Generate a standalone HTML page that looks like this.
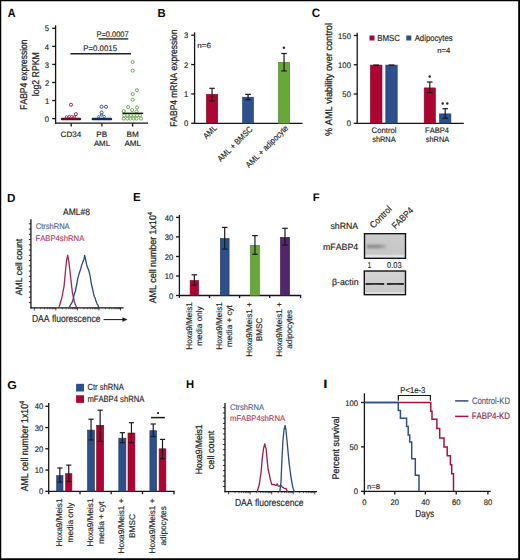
<!DOCTYPE html>
<html><head><meta charset="utf-8"><style>
html,body{margin:0;padding:0;background:#fff;width:520px;height:560px;overflow:hidden;}
svg{display:block;font-family:"Liberation Sans",sans-serif;font-kerning:none;text-rendering:geometricPrecision;}
</style></head><body>
<svg width="520" height="560" viewBox="0 0 520 560">
<rect x="0" y="0" width="520" height="560" fill="#fff"/>
<text transform="translate(7.63 16.60) scale(0.900 1)" font-size="11.93" fill="#0a0a0a" font-weight="bold">A</text>
<line x1="55.60" y1="25.30" x2="55.60" y2="123.80" stroke="#141414" stroke-width="1.3"/>
<line x1="52.20" y1="118.60" x2="55.60" y2="118.60" stroke="#141414" stroke-width="1.3"/>
<text transform="translate(44.84 121.76) scale(0.938 1)" font-size="8.18" fill="#1c1c1c" stroke="#1c1c1c" stroke-width="0.15">0</text>
<line x1="52.20" y1="100.54" x2="55.60" y2="100.54" stroke="#141414" stroke-width="1.3"/>
<text transform="translate(44.91 103.70) scale(0.938 1)" font-size="8.18" fill="#1c1c1c" stroke="#1c1c1c" stroke-width="0.15">1</text>
<line x1="52.20" y1="82.48" x2="55.60" y2="82.48" stroke="#141414" stroke-width="1.3"/>
<text transform="translate(44.92 85.64) scale(0.938 1)" font-size="8.18" fill="#1c1c1c" stroke="#1c1c1c" stroke-width="0.15">2</text>
<line x1="52.20" y1="64.42" x2="55.60" y2="64.42" stroke="#141414" stroke-width="1.3"/>
<text transform="translate(44.87 67.58) scale(0.938 1)" font-size="8.18" fill="#1c1c1c" stroke="#1c1c1c" stroke-width="0.15">3</text>
<line x1="52.20" y1="46.36" x2="55.60" y2="46.36" stroke="#141414" stroke-width="1.3"/>
<text transform="translate(44.76 49.52) scale(0.938 1)" font-size="8.18" fill="#1c1c1c" stroke="#1c1c1c" stroke-width="0.15">4</text>
<line x1="52.20" y1="28.30" x2="55.60" y2="28.30" stroke="#141414" stroke-width="1.3"/>
<text transform="translate(44.86 31.46) scale(0.938 1)" font-size="8.18" fill="#1c1c1c" stroke="#1c1c1c" stroke-width="0.15">5</text>
<line x1="55.00" y1="123.20" x2="148.00" y2="123.20" stroke="#141414" stroke-width="1.3"/>
<line x1="71.20" y1="123.20" x2="71.20" y2="126.60" stroke="#141414" stroke-width="1.3"/>
<line x1="101.90" y1="123.20" x2="101.90" y2="126.60" stroke="#141414" stroke-width="1.3"/>
<line x1="132.60" y1="123.20" x2="132.60" y2="126.60" stroke="#141414" stroke-width="1.3"/>
<text transform="translate(60.59 136.80) scale(1.016 1)" font-size="7.95" fill="#1c1c1c" stroke="#1c1c1c" stroke-width="0.15">CD34</text>
<text transform="translate(96.34 136.80) scale(1.017 1)" font-size="7.95" fill="#1c1c1c" stroke="#1c1c1c" stroke-width="0.15">PB</text>
<text transform="translate(93.88 146.20) scale(0.989 1)" font-size="7.95" fill="#1c1c1c" stroke="#1c1c1c" stroke-width="0.15">AML</text>
<text transform="translate(126.53 136.80) scale(1.026 1)" font-size="7.95" fill="#1c1c1c" stroke="#1c1c1c" stroke-width="0.15">BM</text>
<text transform="translate(124.38 146.20) scale(1.020 1)" font-size="7.95" fill="#1c1c1c" stroke="#1c1c1c" stroke-width="0.15">AML</text>
<text transform="translate(27.40 109.70) rotate(-90) scale(0.859 1)" font-size="9.90" fill="#1c1c1c" stroke="#1c1c1c" stroke-width="0.24">FABP4 expression</text>
<text transform="translate(38.80 96.29) rotate(-90) scale(0.883 1)" font-size="9.90" fill="#1c1c1c" stroke="#1c1c1c" stroke-width="0.24">log2 RPKM</text>
<text transform="translate(96.49 36.80) scale(0.911 1)" font-size="8.18" fill="#1c1c1c" stroke="#1c1c1c" stroke-width="0.15">P=0.0007</text>
<line x1="98.60" y1="38.90" x2="128.30" y2="38.90" stroke="#222" stroke-width="1.35"/>
<text transform="translate(83.26 50.90) scale(0.958 1)" font-size="8.18" fill="#1c1c1c" stroke="#1c1c1c" stroke-width="0.15">P=0.0015</text>
<line x1="70.40" y1="53.70" x2="131.00" y2="53.70" stroke="#222" stroke-width="1.35"/>
<rect x="60.8" y="117.7" width="20.4" height="2.5" rx="1.2" fill="#6a0a26"/>
<circle cx="71.00" cy="104.75" r="1.55" stroke="#a8183f" stroke-width="0.95" fill="none"/>
<circle cx="75.90" cy="114.10" r="1.55" stroke="#a8183f" stroke-width="0.95" fill="none"/>
<circle cx="66.50" cy="116.90" r="1.2" stroke="#a8183f" stroke-width="0.9" fill="none"/>
<circle cx="69.20" cy="116.40" r="1.2" stroke="#a8183f" stroke-width="0.9" fill="none"/>
<circle cx="71.80" cy="116.70" r="1.2" stroke="#a8183f" stroke-width="0.9" fill="none"/>
<circle cx="74.20" cy="116.90" r="1.2" stroke="#a8183f" stroke-width="0.9" fill="none"/>
<rect x="91.6" y="117.7" width="20.6" height="2.5" rx="1.2" fill="#14285a"/>
<circle cx="101.60" cy="106.80" r="1.55" stroke="#2f4d8c" stroke-width="0.95" fill="none"/>
<circle cx="106.00" cy="106.80" r="1.55" stroke="#2f4d8c" stroke-width="0.95" fill="none"/>
<circle cx="101.60" cy="112.60" r="1.55" stroke="#2f4d8c" stroke-width="0.95" fill="none"/>
<circle cx="101.60" cy="114.90" r="1.2" stroke="#2f4d8c" stroke-width="0.9" fill="none"/>
<circle cx="98.80" cy="116.80" r="1.2" stroke="#2f4d8c" stroke-width="0.9" fill="none"/>
<circle cx="104.20" cy="116.60" r="1.2" stroke="#2f4d8c" stroke-width="0.9" fill="none"/>
<circle cx="132.60" cy="62.05" r="1.55" stroke="#6aa848" stroke-width="0.95" fill="none"/>
<circle cx="132.70" cy="70.65" r="1.55" stroke="#6aa848" stroke-width="0.95" fill="none"/>
<circle cx="136.90" cy="90.25" r="1.55" stroke="#6aa848" stroke-width="0.95" fill="none"/>
<circle cx="132.75" cy="94.10" r="1.55" stroke="#6aa848" stroke-width="0.95" fill="none"/>
<circle cx="132.75" cy="99.75" r="1.55" stroke="#6aa848" stroke-width="0.95" fill="none"/>
<circle cx="128.10" cy="107.10" r="1.55" stroke="#6aa848" stroke-width="0.95" fill="none"/>
<circle cx="137.00" cy="107.50" r="1.55" stroke="#6aa848" stroke-width="0.95" fill="none"/>
<circle cx="132.10" cy="110.00" r="1.55" stroke="#6aa848" stroke-width="0.95" fill="none"/>
<circle cx="123.70" cy="111.10" r="1.55" stroke="#6aa848" stroke-width="0.95" fill="none"/>
<circle cx="136.50" cy="111.50" r="1.55" stroke="#6aa848" stroke-width="0.95" fill="none"/>
<circle cx="124.20" cy="115.50" r="1.55" stroke="#6aa848" stroke-width="0.95" fill="none"/>
<circle cx="127.30" cy="115.50" r="1.55" stroke="#6aa848" stroke-width="0.95" fill="none"/>
<circle cx="130.80" cy="115.50" r="1.55" stroke="#6aa848" stroke-width="0.95" fill="none"/>
<circle cx="133.90" cy="115.50" r="1.55" stroke="#6aa848" stroke-width="0.95" fill="none"/>
<circle cx="137.00" cy="115.50" r="1.55" stroke="#6aa848" stroke-width="0.95" fill="none"/>
<circle cx="140.10" cy="115.50" r="1.55" stroke="#6aa848" stroke-width="0.95" fill="none"/>
<circle cx="123.70" cy="118.60" r="1.55" stroke="#6aa848" stroke-width="0.95" fill="none"/>
<circle cx="127.30" cy="118.60" r="1.55" stroke="#6aa848" stroke-width="0.95" fill="none"/>
<circle cx="130.40" cy="118.60" r="1.55" stroke="#6aa848" stroke-width="0.95" fill="none"/>
<circle cx="133.50" cy="118.60" r="1.55" stroke="#6aa848" stroke-width="0.95" fill="none"/>
<circle cx="136.50" cy="118.60" r="1.55" stroke="#6aa848" stroke-width="0.95" fill="none"/>
<circle cx="141.00" cy="118.60" r="1.55" stroke="#6aa848" stroke-width="0.95" fill="none"/>
<line x1="122.40" y1="113.30" x2="143.20" y2="113.30" stroke="#141414" stroke-width="1.4"/>
<text transform="translate(157.54 17.10) scale(0.961 1)" font-size="11.77" fill="#0a0a0a" font-weight="bold">B</text>
<line x1="194.60" y1="32.30" x2="194.60" y2="123.90" stroke="#141414" stroke-width="1.3"/>
<line x1="191.20" y1="123.30" x2="194.60" y2="123.30" stroke="#141414" stroke-width="1.3"/>
<text transform="translate(183.94 126.46) scale(0.938 1)" font-size="8.18" fill="#1c1c1c" stroke="#1c1c1c" stroke-width="0.15">0</text>
<line x1="191.20" y1="93.95" x2="194.60" y2="93.95" stroke="#141414" stroke-width="1.3"/>
<text transform="translate(184.01 97.11) scale(0.938 1)" font-size="8.18" fill="#1c1c1c" stroke="#1c1c1c" stroke-width="0.15">1</text>
<line x1="191.20" y1="64.60" x2="194.60" y2="64.60" stroke="#141414" stroke-width="1.3"/>
<text transform="translate(184.02 67.76) scale(0.938 1)" font-size="8.18" fill="#1c1c1c" stroke="#1c1c1c" stroke-width="0.15">2</text>
<line x1="191.20" y1="35.25" x2="194.60" y2="35.25" stroke="#141414" stroke-width="1.3"/>
<text transform="translate(183.97 38.41) scale(0.938 1)" font-size="8.18" fill="#1c1c1c" stroke="#1c1c1c" stroke-width="0.15">3</text>
<line x1="194.00" y1="123.30" x2="302.50" y2="123.30" stroke="#141414" stroke-width="1.3"/>
<text transform="translate(197.26 47.90) scale(1.092 1)" font-size="7.39" fill="#1c1c1c" stroke="#1c1c1c" stroke-width="0.15">n=6</text>
<rect x="206.40" y="94.40" width="11.30" height="28.90" fill="#ad0531" stroke="#8a0020" stroke-width="0.6"/>
<line x1="212.05" y1="88.30" x2="212.05" y2="100.80" stroke="#1a1a1a" stroke-width="1.2"/>
<line x1="209.25" y1="88.30" x2="214.85" y2="88.30" stroke="#1a1a1a" stroke-width="1.2"/>
<line x1="209.25" y1="100.80" x2="214.85" y2="100.80" stroke="#1a1a1a" stroke-width="1.2"/>
<rect x="242.60" y="97.20" width="10.90" height="26.10" fill="#2d4f8b" stroke="#1c3664" stroke-width="0.6"/>
<line x1="248.05" y1="94.40" x2="248.05" y2="99.60" stroke="#1a1a1a" stroke-width="1.2"/>
<line x1="245.25" y1="94.40" x2="250.85" y2="94.40" stroke="#1a1a1a" stroke-width="1.2"/>
<line x1="245.25" y1="99.60" x2="250.85" y2="99.60" stroke="#1a1a1a" stroke-width="1.2"/>
<rect x="278.40" y="62.45" width="11.30" height="60.85" fill="#68a83b" stroke="#4a8028" stroke-width="0.6"/>
<line x1="284.05" y1="53.50" x2="284.05" y2="70.90" stroke="#1a1a1a" stroke-width="1.2"/>
<line x1="281.25" y1="53.50" x2="286.85" y2="53.50" stroke="#1a1a1a" stroke-width="1.2"/>
<line x1="281.25" y1="70.90" x2="286.85" y2="70.90" stroke="#1a1a1a" stroke-width="1.2"/>
<circle cx="283.90" cy="47.80" r="1.2" stroke="none" stroke-width="0" fill="#222"/>
<text transform="translate(177.30 126.79) rotate(-90) scale(0.864 1)" font-size="9.79" fill="#1c1c1c" stroke="#1c1c1c" stroke-width="0.24">FABP4 mRNA expression</text>
<text transform="translate(206.47 139.41) rotate(-45) scale(0.893 1)" font-size="8.40" fill="#1c1c1c" stroke="#1c1c1c" stroke-width="0.15">AML</text>
<text transform="translate(220.81 162.18) rotate(-45) scale(0.893 1)" font-size="8.40" fill="#1c1c1c" stroke="#1c1c1c" stroke-width="0.15">AML + BMSC</text>
<text transform="translate(249.12 168.25) rotate(-45) scale(0.893 1)" font-size="8.40" fill="#1c1c1c" stroke="#1c1c1c" stroke-width="0.15">AML + adipocyte</text>
<text transform="translate(311.82 17.40) scale(0.962 1)" font-size="12.09" fill="#0a0a0a" font-weight="bold">C</text>
<line x1="357.20" y1="32.70" x2="357.20" y2="123.90" stroke="#141414" stroke-width="1.3"/>
<line x1="353.80" y1="123.30" x2="357.20" y2="123.30" stroke="#141414" stroke-width="1.3"/>
<text transform="translate(346.64 126.46) scale(0.938 1)" font-size="8.18" fill="#1c1c1c" stroke="#1c1c1c" stroke-width="0.15">0</text>
<line x1="353.80" y1="94.03" x2="357.20" y2="94.03" stroke="#141414" stroke-width="1.3"/>
<text transform="translate(342.37 97.20) scale(0.938 1)" font-size="8.18" fill="#1c1c1c" stroke="#1c1c1c" stroke-width="0.15">50</text>
<line x1="353.80" y1="64.77" x2="357.20" y2="64.77" stroke="#141414" stroke-width="1.3"/>
<text transform="translate(338.11 67.93) scale(0.938 1)" font-size="8.18" fill="#1c1c1c" stroke="#1c1c1c" stroke-width="0.15">100</text>
<line x1="353.80" y1="35.50" x2="357.20" y2="35.50" stroke="#141414" stroke-width="1.3"/>
<text transform="translate(338.11 38.67) scale(0.938 1)" font-size="8.18" fill="#1c1c1c" stroke="#1c1c1c" stroke-width="0.15">150</text>
<line x1="356.60" y1="123.30" x2="463.80" y2="123.30" stroke="#141414" stroke-width="1.3"/>
<rect x="369.50" y="35.50" width="5.00" height="5.00" fill="#ad0531"/>
<text transform="translate(377.15 40.80) scale(0.905 1)" font-size="8.74" fill="#1c1c1c" stroke="#1c1c1c" stroke-width="0.15">BMSC</text>
<rect x="406.30" y="35.50" width="5.00" height="5.00" fill="#2d4f8b"/>
<text transform="translate(414.68 40.80) scale(0.887 1)" font-size="8.74" fill="#1c1c1c" stroke="#1c1c1c" stroke-width="0.15">Adipocytes</text>
<text transform="translate(437.29 52.90) scale(1.040 1)" font-size="7.39" fill="#1c1c1c" stroke="#1c1c1c" stroke-width="0.15">n=4</text>
<rect x="370.40" y="65.10" width="11.60" height="58.20" fill="#ad0531" stroke="#8a0020" stroke-width="0.6"/>
<line x1="373.30" y1="65.10" x2="379.10" y2="65.10" stroke="#2a0a10" stroke-width="1.3"/>
<rect x="385.80" y="65.10" width="11.40" height="58.20" fill="#2d4f8b" stroke="#1c3664" stroke-width="0.6"/>
<line x1="388.60" y1="65.10" x2="394.40" y2="65.10" stroke="#2a0a10" stroke-width="1.3"/>
<rect x="424.20" y="87.90" width="11.20" height="35.40" fill="#ad0531" stroke="#8a0020" stroke-width="0.6"/>
<line x1="429.80" y1="82.00" x2="429.80" y2="92.50" stroke="#1a1a1a" stroke-width="1.2"/>
<line x1="427.00" y1="82.00" x2="432.60" y2="82.00" stroke="#1a1a1a" stroke-width="1.2"/>
<line x1="427.00" y1="92.50" x2="432.60" y2="92.50" stroke="#1a1a1a" stroke-width="1.2"/>
<rect x="439.50" y="113.90" width="11.40" height="9.40" fill="#2d4f8b" stroke="#1c3664" stroke-width="0.6"/>
<line x1="445.20" y1="108.70" x2="445.20" y2="118.20" stroke="#1a1a1a" stroke-width="1.2"/>
<line x1="442.40" y1="108.70" x2="448.00" y2="108.70" stroke="#1a1a1a" stroke-width="1.2"/>
<line x1="442.40" y1="118.20" x2="448.00" y2="118.20" stroke="#1a1a1a" stroke-width="1.2"/>
<circle cx="429.70" cy="76.50" r="1.2" stroke="none" stroke-width="0" fill="#222"/>
<circle cx="442.70" cy="103.50" r="1.2" stroke="none" stroke-width="0" fill="#222"/>
<circle cx="447.30" cy="103.50" r="1.2" stroke="none" stroke-width="0" fill="#222"/>
<text transform="translate(332.20 135.93) rotate(-90) scale(0.940 1)" font-size="9.79" fill="#1c1c1c" stroke="#1c1c1c" stroke-width="0.24">% AML viability over control</text>
<text transform="translate(371.61 133.10) scale(0.958 1)" font-size="8.06" fill="#1c1c1c" stroke="#1c1c1c" stroke-width="0.15">Control</text>
<text transform="translate(372.19 142.30) scale(0.921 1)" font-size="8.06" fill="#1c1c1c" stroke="#1c1c1c" stroke-width="0.15">shRNA</text>
<text transform="translate(425.08 133.10) scale(0.937 1)" font-size="8.06" fill="#1c1c1c" stroke="#1c1c1c" stroke-width="0.15">FABP4</text>
<text transform="translate(425.79 142.30) scale(0.917 1)" font-size="8.06" fill="#1c1c1c" stroke="#1c1c1c" stroke-width="0.15">shRNA</text>
<text transform="translate(7.11 201.60) scale(1.011 1)" font-size="11.62" fill="#0a0a0a" font-weight="bold">D</text>
<text transform="translate(62.98 214.70) scale(0.913 1)" font-size="9.30" fill="#1c1c1c" stroke="#1c1c1c" stroke-width="0.15">AML#8</text>
<line x1="30.90" y1="219.30" x2="30.90" y2="308.40" stroke="#141414" stroke-width="1.3"/>
<line x1="28.80" y1="302.55" x2="30.90" y2="302.55" stroke="#141414" stroke-width="0.9"/>
<line x1="28.80" y1="297.30" x2="30.90" y2="297.30" stroke="#141414" stroke-width="0.9"/>
<line x1="28.80" y1="292.05" x2="30.90" y2="292.05" stroke="#141414" stroke-width="0.9"/>
<line x1="28.80" y1="286.80" x2="30.90" y2="286.80" stroke="#141414" stroke-width="0.9"/>
<line x1="28.80" y1="281.55" x2="30.90" y2="281.55" stroke="#141414" stroke-width="0.9"/>
<line x1="28.80" y1="276.30" x2="30.90" y2="276.30" stroke="#141414" stroke-width="0.9"/>
<line x1="28.80" y1="271.05" x2="30.90" y2="271.05" stroke="#141414" stroke-width="0.9"/>
<line x1="28.80" y1="265.80" x2="30.90" y2="265.80" stroke="#141414" stroke-width="0.9"/>
<line x1="28.80" y1="260.55" x2="30.90" y2="260.55" stroke="#141414" stroke-width="0.9"/>
<line x1="28.80" y1="255.30" x2="30.90" y2="255.30" stroke="#141414" stroke-width="0.9"/>
<line x1="28.80" y1="250.05" x2="30.90" y2="250.05" stroke="#141414" stroke-width="0.9"/>
<line x1="28.80" y1="244.80" x2="30.90" y2="244.80" stroke="#141414" stroke-width="0.9"/>
<line x1="28.80" y1="239.55" x2="30.90" y2="239.55" stroke="#141414" stroke-width="0.9"/>
<line x1="28.80" y1="234.30" x2="30.90" y2="234.30" stroke="#141414" stroke-width="0.9"/>
<line x1="28.80" y1="229.05" x2="30.90" y2="229.05" stroke="#141414" stroke-width="0.9"/>
<line x1="28.80" y1="223.80" x2="30.90" y2="223.80" stroke="#141414" stroke-width="0.9"/>
<line x1="30.30" y1="307.80" x2="123.60" y2="307.80" stroke="#141414" stroke-width="1.3"/>
<line x1="34.30" y1="307.80" x2="34.30" y2="310.40" stroke="#141414" stroke-width="0.8"/>
<line x1="40.79" y1="307.80" x2="40.79" y2="309.30" stroke="#141414" stroke-width="0.6"/>
<line x1="44.58" y1="307.80" x2="44.58" y2="309.30" stroke="#141414" stroke-width="0.6"/>
<line x1="47.27" y1="307.80" x2="47.27" y2="309.30" stroke="#141414" stroke-width="0.6"/>
<line x1="49.36" y1="307.80" x2="49.36" y2="309.30" stroke="#141414" stroke-width="0.6"/>
<line x1="51.07" y1="307.80" x2="51.07" y2="309.30" stroke="#141414" stroke-width="0.6"/>
<line x1="52.51" y1="307.80" x2="52.51" y2="309.30" stroke="#141414" stroke-width="0.6"/>
<line x1="53.76" y1="307.80" x2="53.76" y2="309.30" stroke="#141414" stroke-width="0.6"/>
<line x1="54.86" y1="307.80" x2="54.86" y2="309.30" stroke="#141414" stroke-width="0.6"/>
<line x1="55.85" y1="307.80" x2="55.85" y2="310.40" stroke="#141414" stroke-width="0.8"/>
<line x1="62.34" y1="307.80" x2="62.34" y2="309.30" stroke="#141414" stroke-width="0.6"/>
<line x1="66.13" y1="307.80" x2="66.13" y2="309.30" stroke="#141414" stroke-width="0.6"/>
<line x1="68.82" y1="307.80" x2="68.82" y2="309.30" stroke="#141414" stroke-width="0.6"/>
<line x1="70.91" y1="307.80" x2="70.91" y2="309.30" stroke="#141414" stroke-width="0.6"/>
<line x1="72.62" y1="307.80" x2="72.62" y2="309.30" stroke="#141414" stroke-width="0.6"/>
<line x1="74.06" y1="307.80" x2="74.06" y2="309.30" stroke="#141414" stroke-width="0.6"/>
<line x1="75.31" y1="307.80" x2="75.31" y2="309.30" stroke="#141414" stroke-width="0.6"/>
<line x1="76.41" y1="307.80" x2="76.41" y2="309.30" stroke="#141414" stroke-width="0.6"/>
<line x1="77.40" y1="307.80" x2="77.40" y2="310.40" stroke="#141414" stroke-width="0.8"/>
<line x1="83.89" y1="307.80" x2="83.89" y2="309.30" stroke="#141414" stroke-width="0.6"/>
<line x1="87.68" y1="307.80" x2="87.68" y2="309.30" stroke="#141414" stroke-width="0.6"/>
<line x1="90.37" y1="307.80" x2="90.37" y2="309.30" stroke="#141414" stroke-width="0.6"/>
<line x1="92.46" y1="307.80" x2="92.46" y2="309.30" stroke="#141414" stroke-width="0.6"/>
<line x1="94.17" y1="307.80" x2="94.17" y2="309.30" stroke="#141414" stroke-width="0.6"/>
<line x1="95.61" y1="307.80" x2="95.61" y2="309.30" stroke="#141414" stroke-width="0.6"/>
<line x1="96.86" y1="307.80" x2="96.86" y2="309.30" stroke="#141414" stroke-width="0.6"/>
<line x1="97.96" y1="307.80" x2="97.96" y2="309.30" stroke="#141414" stroke-width="0.6"/>
<line x1="98.95" y1="307.80" x2="98.95" y2="310.40" stroke="#141414" stroke-width="0.8"/>
<line x1="105.44" y1="307.80" x2="105.44" y2="309.30" stroke="#141414" stroke-width="0.6"/>
<line x1="109.23" y1="307.80" x2="109.23" y2="309.30" stroke="#141414" stroke-width="0.6"/>
<line x1="111.92" y1="307.80" x2="111.92" y2="309.30" stroke="#141414" stroke-width="0.6"/>
<line x1="114.01" y1="307.80" x2="114.01" y2="309.30" stroke="#141414" stroke-width="0.6"/>
<line x1="115.72" y1="307.80" x2="115.72" y2="309.30" stroke="#141414" stroke-width="0.6"/>
<line x1="117.16" y1="307.80" x2="117.16" y2="309.30" stroke="#141414" stroke-width="0.6"/>
<line x1="118.41" y1="307.80" x2="118.41" y2="309.30" stroke="#141414" stroke-width="0.6"/>
<line x1="119.51" y1="307.80" x2="119.51" y2="309.30" stroke="#141414" stroke-width="0.6"/>
<line x1="120.50" y1="307.80" x2="120.50" y2="310.40" stroke="#141414" stroke-width="0.8"/>
<text transform="translate(35.72 229.40) scale(0.909 1)" font-size="8.29" fill="#4a6394" stroke="#4a6394" stroke-width="0.15">CtrshRNA</text>
<text transform="translate(35.47 241.20) scale(0.930 1)" font-size="8.29" fill="#b53a5c" stroke="#b53a5c" stroke-width="0.15">FABP4shRNA</text>
<text transform="translate(21.80 295.22) rotate(-90) scale(0.932 1)" font-size="9.24" fill="#1c1c1c" stroke="#1c1c1c" stroke-width="0.24">AML cell count</text>
<text transform="translate(31.90 322.30) scale(0.842 1)" font-size="10.19" fill="#1c1c1c" stroke="#1c1c1c" stroke-width="0.15">DAA fluorescence</text>
<line x1="103.60" y1="319.60" x2="124.50" y2="319.60" stroke="#141414" stroke-width="1.0"/>
<path d="M122.6,317.6 L127.2,319.6 L122.6,321.6 Z" stroke="#141414" stroke-width="0.3" fill="#141414"/>
<path d="M58.60,307.80 L59.10,307.02 L59.97,304.26 L60.83,301.18 L61.70,298.37 L62.47,294.59 L63.23,290.40 L64.00,286.56 L64.75,279.14 L65.50,270.73 L66.60,260.41 L67.70,255.25 L68.90,261.68 L70.10,272.24 L71.20,282.28 L72.40,292.70 L73.35,296.96 L74.30,301.89 L75.07,303.86 L75.83,305.42 L76.60,307.37 L77.20,307.80" stroke="#a8224c" stroke-width="1.3" fill="none" stroke-linejoin="round"/>
<path d="M68.80,307.80 L69.20,307.37 L70.05,305.89 L70.90,304.31 L71.75,302.87 L72.60,300.94 L73.32,298.62 L74.05,294.79 L74.78,292.83 L75.50,290.92 L76.23,286.71 L76.97,283.26 L77.70,278.36 L78.47,276.19 L79.23,273.21 L80.00,270.96 L80.77,268.70 L81.53,265.62 L82.30,263.60 L83.15,261.14 L84.00,259.48 L84.60,255.47 L85.80,260.12 L86.65,264.72 L87.50,267.49 L88.60,269.86 L89.45,273.18 L90.30,277.00 L91.15,282.82 L92.00,286.49 L92.77,289.54 L93.53,293.64 L94.30,296.52 L95.03,297.73 L95.75,300.70 L96.47,302.13 L97.20,304.35 L98.05,305.24 L98.90,307.82 L99.40,307.80" stroke="#2c4682" stroke-width="1.3" fill="none" stroke-linejoin="round"/>
<text transform="translate(133.12 201.40) scale(0.997 1)" font-size="11.62" fill="#0a0a0a" font-weight="bold">E</text>
<line x1="179.40" y1="214.90" x2="179.40" y2="297.90" stroke="#141414" stroke-width="1.3"/>
<line x1="176.00" y1="295.50" x2="179.40" y2="295.50" stroke="#141414" stroke-width="1.3"/>
<text transform="translate(169.04 298.66) scale(0.938 1)" font-size="8.18" fill="#1c1c1c" stroke="#1c1c1c" stroke-width="0.15">0</text>
<line x1="176.00" y1="275.98" x2="179.40" y2="275.98" stroke="#141414" stroke-width="1.3"/>
<text transform="translate(164.77 279.14) scale(0.938 1)" font-size="8.18" fill="#1c1c1c" stroke="#1c1c1c" stroke-width="0.15">10</text>
<line x1="176.00" y1="256.46" x2="179.40" y2="256.46" stroke="#141414" stroke-width="1.3"/>
<text transform="translate(164.77 259.62) scale(0.938 1)" font-size="8.18" fill="#1c1c1c" stroke="#1c1c1c" stroke-width="0.15">20</text>
<line x1="176.00" y1="236.94" x2="179.40" y2="236.94" stroke="#141414" stroke-width="1.3"/>
<text transform="translate(164.77 240.10) scale(0.938 1)" font-size="8.18" fill="#1c1c1c" stroke="#1c1c1c" stroke-width="0.15">30</text>
<line x1="176.00" y1="217.42" x2="179.40" y2="217.42" stroke="#141414" stroke-width="1.3"/>
<text transform="translate(164.77 220.58) scale(0.938 1)" font-size="8.18" fill="#1c1c1c" stroke="#1c1c1c" stroke-width="0.15">40</text>
<line x1="178.80" y1="295.50" x2="301.20" y2="295.50" stroke="#141414" stroke-width="1.3"/>
<line x1="209.50" y1="295.50" x2="209.50" y2="298.10" stroke="#141414" stroke-width="1.3"/>
<line x1="239.60" y1="295.50" x2="239.60" y2="298.10" stroke="#141414" stroke-width="1.3"/>
<line x1="269.70" y1="295.50" x2="269.70" y2="298.10" stroke="#141414" stroke-width="1.3"/>
<line x1="300.60" y1="295.50" x2="300.60" y2="298.10" stroke="#141414" stroke-width="1.3"/>
<rect x="190.10" y="280.50" width="8.50" height="15.00" fill="#ad0531" stroke="#8a0020" stroke-width="0.6"/>
<line x1="194.35" y1="274.80" x2="194.35" y2="285.20" stroke="#1a1a1a" stroke-width="1.2"/>
<line x1="191.55" y1="274.80" x2="197.15" y2="274.80" stroke="#1a1a1a" stroke-width="1.2"/>
<line x1="191.55" y1="285.20" x2="197.15" y2="285.20" stroke="#1a1a1a" stroke-width="1.2"/>
<rect x="220.30" y="238.50" width="8.80" height="57.00" fill="#2d4f8b" stroke="#1c3664" stroke-width="0.6"/>
<line x1="224.70" y1="227.40" x2="224.70" y2="249.10" stroke="#1a1a1a" stroke-width="1.2"/>
<line x1="221.90" y1="227.40" x2="227.50" y2="227.40" stroke="#1a1a1a" stroke-width="1.2"/>
<line x1="221.90" y1="249.10" x2="227.50" y2="249.10" stroke="#1a1a1a" stroke-width="1.2"/>
<rect x="250.40" y="245.40" width="9.10" height="50.10" fill="#68a83b" stroke="#4a8028" stroke-width="0.6"/>
<line x1="254.95" y1="235.60" x2="254.95" y2="254.30" stroke="#1a1a1a" stroke-width="1.2"/>
<line x1="252.15" y1="235.60" x2="257.75" y2="235.60" stroke="#1a1a1a" stroke-width="1.2"/>
<line x1="252.15" y1="254.30" x2="257.75" y2="254.30" stroke="#1a1a1a" stroke-width="1.2"/>
<rect x="280.40" y="237.30" width="9.20" height="58.20" fill="#52276c" stroke="#3a1650" stroke-width="0.6"/>
<line x1="285.00" y1="228.30" x2="285.00" y2="245.10" stroke="#1a1a1a" stroke-width="1.2"/>
<line x1="282.20" y1="228.30" x2="287.80" y2="228.30" stroke="#1a1a1a" stroke-width="1.2"/>
<line x1="282.20" y1="245.10" x2="287.80" y2="245.10" stroke="#1a1a1a" stroke-width="1.2"/>
<text transform="translate(156.00 303.32) rotate(-90) scale(0.916 1)" font-size="9.68" fill="#1c1c1c" stroke="#1c1c1c" stroke-width="0.24">AML cell number 1x10<tspan font-size="6.4" dy="-3.9">4</tspan></text>
<text transform="translate(191.90 349.71) rotate(-90) scale(0.982 1)" font-size="8.29" fill="#1c1c1c" stroke="#1c1c1c" stroke-width="0.15">Hoxa9/Meis1</text>
<text transform="translate(201.90 345.76) rotate(-90) scale(0.982 1)" font-size="8.29" fill="#1c1c1c" stroke="#1c1c1c" stroke-width="0.15">media only</text>
<text transform="translate(222.20 349.71) rotate(-90) scale(0.982 1)" font-size="8.29" fill="#1c1c1c" stroke="#1c1c1c" stroke-width="0.15">Hoxa9/Meis1</text>
<text transform="translate(232.20 346.98) rotate(-90) scale(0.982 1)" font-size="8.29" fill="#1c1c1c" stroke="#1c1c1c" stroke-width="0.15">media + cyt</text>
<text transform="translate(252.10 356.72) rotate(-90) scale(0.982 1)" font-size="8.29" fill="#1c1c1c" stroke="#1c1c1c" stroke-width="0.15">Hoxa9/Meis1 +</text>
<text transform="translate(262.10 341.26) rotate(-90) scale(0.982 1)" font-size="8.29" fill="#1c1c1c" stroke="#1c1c1c" stroke-width="0.15">BMSC</text>
<text transform="translate(282.20 356.72) rotate(-90) scale(0.982 1)" font-size="8.29" fill="#1c1c1c" stroke="#1c1c1c" stroke-width="0.15">Hoxa9/Meis1 +</text>
<text transform="translate(292.20 348.81) rotate(-90) scale(0.982 1)" font-size="8.29" fill="#1c1c1c" stroke="#1c1c1c" stroke-width="0.15">adipocytes</text>
<text transform="translate(312.85 200.90) scale(1.022 1)" font-size="10.99" fill="#0a0a0a" font-weight="bold">F</text>
<text transform="translate(330.46 229.00) scale(0.971 1)" font-size="8.96" fill="#1c1c1c" stroke="#1c1c1c" stroke-width="0.15">shRNA</text>
<text transform="translate(323.02 250.30) scale(0.983 1)" font-size="8.96" fill="#1c1c1c" stroke="#1c1c1c" stroke-width="0.15">mFABP4</text>
<text transform="translate(331.99 285.40) scale(0.982 1)" font-size="8.96" fill="#1c1c1c" stroke="#1c1c1c" stroke-width="0.15">&#946;-actin</text>
<text transform="translate(373.44 228.66) rotate(-45) scale(0.893 1)" font-size="9.30" fill="#1c1c1c" stroke="#1c1c1c" stroke-width="0.15">Control</text>
<text transform="translate(395.51 229.61) rotate(-45) scale(0.893 1)" font-size="9.30" fill="#1c1c1c" stroke="#1c1c1c" stroke-width="0.15">FABP4</text>
<defs><linearGradient id="g1" x1="0" y1="0" x2="0" y2="1"><stop offset="0" stop-color="#d2d2d2"/><stop offset="0.15" stop-color="#cacaca"/><stop offset="0.82" stop-color="#c6c6c6"/><stop offset="0.9" stop-color="#e4e4e4"/><stop offset="1" stop-color="#e8e8e8"/></linearGradient><linearGradient id="g2" x1="0" y1="0" x2="0" y2="1"><stop offset="0" stop-color="#d4d4d4"/><stop offset="0.5" stop-color="#cecece"/><stop offset="0.86" stop-color="#c8c8c8"/><stop offset="0.93" stop-color="#e0e0e0"/><stop offset="1" stop-color="#e4e4e4"/></linearGradient><linearGradient id="gb" x1="0" y1="0" x2="1" y2="0"><stop offset="0" stop-color="#8c8c8c"/><stop offset="0.6" stop-color="#8e8e8e"/><stop offset="1" stop-color="#b4b4b4"/></linearGradient><filter id="bl" x="-20%" y="-100%" width="140%" height="300%"><feGaussianBlur stdDeviation="0.55"/></filter><filter id="bl2" x="-20%" y="-100%" width="140%" height="300%"><feGaussianBlur stdDeviation="0.8"/></filter></defs>
<rect x="364.5" y="233.7" width="41.0" height="24.6" fill="url(#g1)" stroke="#141414" stroke-width="1.4"/>
<rect x="366.8" y="244.6" width="19.5" height="3.8" fill="url(#gb)" filter="url(#bl2)"/>
<rect x="364.3" y="271.0" width="41.2" height="23.7" fill="url(#g2)" stroke="#141414" stroke-width="1.4"/>
<path d="M365.6,284.0 Q375,283.4 384.2,284.0" stroke="#2a2a2a" stroke-width="2.1" fill="none" filter="url(#bl)"/>
<path d="M386.9,284.0 Q395,283.5 403.8,284.0" stroke="#2a2a2a" stroke-width="2.1" fill="none" filter="url(#bl)"/>
<text transform="translate(367.74 267.90) scale(0.708 1)" font-size="8.51" fill="#1c1c1c" stroke="#1c1c1c" stroke-width="0.15">1</text>
<text transform="translate(387.11 267.90) scale(0.870 1)" font-size="8.51" fill="#1c1c1c" stroke="#1c1c1c" stroke-width="0.15">0.03</text>
<text transform="translate(7.20 388.70) scale(1.088 1)" font-size="11.30" fill="#0a0a0a" font-weight="bold">G</text>
<rect x="76.10" y="383.80" width="7.90" height="7.70" fill="#2d4f8b"/>
<text transform="translate(87.51 390.30) scale(0.848 1)" font-size="8.96" fill="#1c1c1c" stroke="#1c1c1c" stroke-width="0.15">Ctr shRNA</text>
<rect x="76.10" y="395.30" width="7.90" height="7.60" fill="#ad0531"/>
<text transform="translate(87.39 401.90) scale(0.853 1)" font-size="8.96" fill="#1c1c1c" stroke="#1c1c1c" stroke-width="0.15">mFABP4 shRNA</text>
<line x1="48.70" y1="402.90" x2="48.70" y2="494.20" stroke="#141414" stroke-width="1.3"/>
<line x1="45.30" y1="491.30" x2="48.70" y2="491.30" stroke="#141414" stroke-width="1.3"/>
<text transform="translate(39.04 494.46) scale(0.938 1)" font-size="8.18" fill="#1c1c1c" stroke="#1c1c1c" stroke-width="0.15">0</text>
<line x1="45.30" y1="470.05" x2="48.70" y2="470.05" stroke="#141414" stroke-width="1.3"/>
<text transform="translate(34.77 473.21) scale(0.938 1)" font-size="8.18" fill="#1c1c1c" stroke="#1c1c1c" stroke-width="0.15">10</text>
<line x1="45.30" y1="448.80" x2="48.70" y2="448.80" stroke="#141414" stroke-width="1.3"/>
<text transform="translate(34.77 451.96) scale(0.938 1)" font-size="8.18" fill="#1c1c1c" stroke="#1c1c1c" stroke-width="0.15">20</text>
<line x1="45.30" y1="427.55" x2="48.70" y2="427.55" stroke="#141414" stroke-width="1.3"/>
<text transform="translate(34.77 430.71) scale(0.938 1)" font-size="8.18" fill="#1c1c1c" stroke="#1c1c1c" stroke-width="0.15">30</text>
<line x1="45.30" y1="406.30" x2="48.70" y2="406.30" stroke="#141414" stroke-width="1.3"/>
<text transform="translate(34.77 409.46) scale(0.938 1)" font-size="8.18" fill="#1c1c1c" stroke="#1c1c1c" stroke-width="0.15">40</text>
<line x1="48.10" y1="491.30" x2="174.60" y2="491.30" stroke="#141414" stroke-width="1.3"/>
<line x1="80.00" y1="491.30" x2="80.00" y2="494.20" stroke="#141414" stroke-width="1.3"/>
<line x1="111.20" y1="491.30" x2="111.20" y2="494.20" stroke="#141414" stroke-width="1.3"/>
<line x1="142.50" y1="491.30" x2="142.50" y2="494.20" stroke="#141414" stroke-width="1.3"/>
<line x1="174.00" y1="491.30" x2="174.00" y2="494.20" stroke="#141414" stroke-width="1.3"/>
<rect x="56.70" y="475.50" width="6.30" height="15.80" fill="#2d4f8b" stroke="#1c3664" stroke-width="0.6"/>
<line x1="59.85" y1="468.00" x2="59.85" y2="482.10" stroke="#1a1a1a" stroke-width="1.2"/>
<line x1="57.25" y1="468.00" x2="62.45" y2="468.00" stroke="#1a1a1a" stroke-width="1.2"/>
<line x1="57.25" y1="482.10" x2="62.45" y2="482.10" stroke="#1a1a1a" stroke-width="1.2"/>
<rect x="65.60" y="473.70" width="6.30" height="17.60" fill="#ad0531" stroke="#8a0020" stroke-width="0.6"/>
<line x1="68.75" y1="465.10" x2="68.75" y2="481.50" stroke="#1a1a1a" stroke-width="1.2"/>
<line x1="66.15" y1="465.10" x2="71.35" y2="465.10" stroke="#1a1a1a" stroke-width="1.2"/>
<line x1="66.15" y1="481.50" x2="71.35" y2="481.50" stroke="#1a1a1a" stroke-width="1.2"/>
<rect x="87.60" y="430.10" width="6.90" height="61.20" fill="#2d4f8b" stroke="#1c3664" stroke-width="0.6"/>
<line x1="91.05" y1="419.20" x2="91.05" y2="440.00" stroke="#1a1a1a" stroke-width="1.2"/>
<line x1="88.45" y1="419.20" x2="93.65" y2="419.20" stroke="#1a1a1a" stroke-width="1.2"/>
<line x1="88.45" y1="440.00" x2="93.65" y2="440.00" stroke="#1a1a1a" stroke-width="1.2"/>
<rect x="96.60" y="425.30" width="7.10" height="66.00" fill="#ad0531" stroke="#8a0020" stroke-width="0.6"/>
<line x1="100.15" y1="410.20" x2="100.15" y2="441.30" stroke="#1a1a1a" stroke-width="1.2"/>
<line x1="97.55" y1="410.20" x2="102.75" y2="410.20" stroke="#1a1a1a" stroke-width="1.2"/>
<line x1="97.55" y1="441.30" x2="102.75" y2="441.30" stroke="#1a1a1a" stroke-width="1.2"/>
<rect x="118.80" y="438.20" width="7.10" height="53.10" fill="#2d4f8b" stroke="#1c3664" stroke-width="0.6"/>
<line x1="122.35" y1="432.70" x2="122.35" y2="442.70" stroke="#1a1a1a" stroke-width="1.2"/>
<line x1="119.75" y1="432.70" x2="124.95" y2="432.70" stroke="#1a1a1a" stroke-width="1.2"/>
<line x1="119.75" y1="442.70" x2="124.95" y2="442.70" stroke="#1a1a1a" stroke-width="1.2"/>
<rect x="128.00" y="433.00" width="6.90" height="58.30" fill="#ad0531" stroke="#8a0020" stroke-width="0.6"/>
<line x1="131.45" y1="422.70" x2="131.45" y2="442.70" stroke="#1a1a1a" stroke-width="1.2"/>
<line x1="128.85" y1="422.70" x2="134.05" y2="422.70" stroke="#1a1a1a" stroke-width="1.2"/>
<line x1="128.85" y1="442.70" x2="134.05" y2="442.70" stroke="#1a1a1a" stroke-width="1.2"/>
<rect x="149.90" y="430.70" width="6.70" height="60.60" fill="#2d4f8b" stroke="#1c3664" stroke-width="0.6"/>
<line x1="153.25" y1="424.00" x2="153.25" y2="436.50" stroke="#1a1a1a" stroke-width="1.2"/>
<line x1="150.65" y1="424.00" x2="155.85" y2="424.00" stroke="#1a1a1a" stroke-width="1.2"/>
<line x1="150.65" y1="436.50" x2="155.85" y2="436.50" stroke="#1a1a1a" stroke-width="1.2"/>
<rect x="159.10" y="448.80" width="6.80" height="42.50" fill="#ad0531" stroke="#8a0020" stroke-width="0.6"/>
<line x1="162.50" y1="439.40" x2="162.50" y2="458.70" stroke="#1a1a1a" stroke-width="1.2"/>
<line x1="159.90" y1="439.40" x2="165.10" y2="439.40" stroke="#1a1a1a" stroke-width="1.2"/>
<line x1="159.90" y1="458.70" x2="165.10" y2="458.70" stroke="#1a1a1a" stroke-width="1.2"/>
<line x1="151.00" y1="417.60" x2="164.90" y2="417.60" stroke="#1a1a1a" stroke-width="1.5"/>
<circle cx="158.10" cy="413.00" r="1.1" stroke="none" stroke-width="0" fill="#1a1a1a"/>
<text transform="translate(28.30 491.32) rotate(-90) scale(0.869 1)" font-size="10.12" fill="#1c1c1c" stroke="#1c1c1c" stroke-width="0.24">AML cell number 1x10<tspan font-size="6.4" dy="-3.9">4</tspan></text>
<text transform="translate(62.10 546.44) rotate(-90) scale(0.982 1)" font-size="8.40" fill="#1c1c1c" stroke="#1c1c1c" stroke-width="0.15">Hoxa9/Meis1</text>
<text transform="translate(72.70 542.45) rotate(-90) scale(0.982 1)" font-size="8.40" fill="#1c1c1c" stroke="#1c1c1c" stroke-width="0.15">media only</text>
<text transform="translate(93.20 546.44) rotate(-90) scale(0.982 1)" font-size="8.40" fill="#1c1c1c" stroke="#1c1c1c" stroke-width="0.15">Hoxa9/Meis1</text>
<text transform="translate(103.80 543.68) rotate(-90) scale(0.982 1)" font-size="8.40" fill="#1c1c1c" stroke="#1c1c1c" stroke-width="0.15">media + cyt</text>
<text transform="translate(123.90 553.55) rotate(-90) scale(0.982 1)" font-size="8.40" fill="#1c1c1c" stroke="#1c1c1c" stroke-width="0.15">Hoxa9/Meis1 +</text>
<text transform="translate(134.50 537.89) rotate(-90) scale(0.982 1)" font-size="8.40" fill="#1c1c1c" stroke="#1c1c1c" stroke-width="0.15">BMSC</text>
<text transform="translate(155.20 553.55) rotate(-90) scale(0.982 1)" font-size="8.40" fill="#1c1c1c" stroke="#1c1c1c" stroke-width="0.15">Hoxa9/Meis1 +</text>
<text transform="translate(165.80 545.53) rotate(-90) scale(0.982 1)" font-size="8.40" fill="#1c1c1c" stroke="#1c1c1c" stroke-width="0.15">adipocytes</text>
<text transform="translate(186.05 388.00) scale(0.993 1)" font-size="11.30" fill="#0a0a0a" font-weight="bold">H</text>
<line x1="225.00" y1="402.90" x2="225.00" y2="492.30" stroke="#141414" stroke-width="1.3"/>
<line x1="222.90" y1="486.45" x2="225.00" y2="486.45" stroke="#141414" stroke-width="0.9"/>
<line x1="222.90" y1="481.20" x2="225.00" y2="481.20" stroke="#141414" stroke-width="0.9"/>
<line x1="222.90" y1="475.95" x2="225.00" y2="475.95" stroke="#141414" stroke-width="0.9"/>
<line x1="222.90" y1="470.70" x2="225.00" y2="470.70" stroke="#141414" stroke-width="0.9"/>
<line x1="222.90" y1="465.45" x2="225.00" y2="465.45" stroke="#141414" stroke-width="0.9"/>
<line x1="222.90" y1="460.20" x2="225.00" y2="460.20" stroke="#141414" stroke-width="0.9"/>
<line x1="222.90" y1="454.95" x2="225.00" y2="454.95" stroke="#141414" stroke-width="0.9"/>
<line x1="222.90" y1="449.70" x2="225.00" y2="449.70" stroke="#141414" stroke-width="0.9"/>
<line x1="222.90" y1="444.45" x2="225.00" y2="444.45" stroke="#141414" stroke-width="0.9"/>
<line x1="222.90" y1="439.20" x2="225.00" y2="439.20" stroke="#141414" stroke-width="0.9"/>
<line x1="222.90" y1="433.95" x2="225.00" y2="433.95" stroke="#141414" stroke-width="0.9"/>
<line x1="222.90" y1="428.70" x2="225.00" y2="428.70" stroke="#141414" stroke-width="0.9"/>
<line x1="222.90" y1="423.45" x2="225.00" y2="423.45" stroke="#141414" stroke-width="0.9"/>
<line x1="222.90" y1="418.20" x2="225.00" y2="418.20" stroke="#141414" stroke-width="0.9"/>
<line x1="222.90" y1="412.95" x2="225.00" y2="412.95" stroke="#141414" stroke-width="0.9"/>
<line x1="222.90" y1="407.70" x2="225.00" y2="407.70" stroke="#141414" stroke-width="0.9"/>
<line x1="224.40" y1="491.70" x2="317.00" y2="491.70" stroke="#141414" stroke-width="1.3"/>
<line x1="228.60" y1="491.70" x2="228.60" y2="494.30" stroke="#141414" stroke-width="0.8"/>
<line x1="235.09" y1="491.70" x2="235.09" y2="493.20" stroke="#141414" stroke-width="0.6"/>
<line x1="238.88" y1="491.70" x2="238.88" y2="493.20" stroke="#141414" stroke-width="0.6"/>
<line x1="241.57" y1="491.70" x2="241.57" y2="493.20" stroke="#141414" stroke-width="0.6"/>
<line x1="243.66" y1="491.70" x2="243.66" y2="493.20" stroke="#141414" stroke-width="0.6"/>
<line x1="245.37" y1="491.70" x2="245.37" y2="493.20" stroke="#141414" stroke-width="0.6"/>
<line x1="246.81" y1="491.70" x2="246.81" y2="493.20" stroke="#141414" stroke-width="0.6"/>
<line x1="248.06" y1="491.70" x2="248.06" y2="493.20" stroke="#141414" stroke-width="0.6"/>
<line x1="249.16" y1="491.70" x2="249.16" y2="493.20" stroke="#141414" stroke-width="0.6"/>
<line x1="250.15" y1="491.70" x2="250.15" y2="494.30" stroke="#141414" stroke-width="0.8"/>
<line x1="256.64" y1="491.70" x2="256.64" y2="493.20" stroke="#141414" stroke-width="0.6"/>
<line x1="260.43" y1="491.70" x2="260.43" y2="493.20" stroke="#141414" stroke-width="0.6"/>
<line x1="263.12" y1="491.70" x2="263.12" y2="493.20" stroke="#141414" stroke-width="0.6"/>
<line x1="265.21" y1="491.70" x2="265.21" y2="493.20" stroke="#141414" stroke-width="0.6"/>
<line x1="266.92" y1="491.70" x2="266.92" y2="493.20" stroke="#141414" stroke-width="0.6"/>
<line x1="268.36" y1="491.70" x2="268.36" y2="493.20" stroke="#141414" stroke-width="0.6"/>
<line x1="269.61" y1="491.70" x2="269.61" y2="493.20" stroke="#141414" stroke-width="0.6"/>
<line x1="270.71" y1="491.70" x2="270.71" y2="493.20" stroke="#141414" stroke-width="0.6"/>
<line x1="271.70" y1="491.70" x2="271.70" y2="494.30" stroke="#141414" stroke-width="0.8"/>
<line x1="278.19" y1="491.70" x2="278.19" y2="493.20" stroke="#141414" stroke-width="0.6"/>
<line x1="281.98" y1="491.70" x2="281.98" y2="493.20" stroke="#141414" stroke-width="0.6"/>
<line x1="284.67" y1="491.70" x2="284.67" y2="493.20" stroke="#141414" stroke-width="0.6"/>
<line x1="286.76" y1="491.70" x2="286.76" y2="493.20" stroke="#141414" stroke-width="0.6"/>
<line x1="288.47" y1="491.70" x2="288.47" y2="493.20" stroke="#141414" stroke-width="0.6"/>
<line x1="289.91" y1="491.70" x2="289.91" y2="493.20" stroke="#141414" stroke-width="0.6"/>
<line x1="291.16" y1="491.70" x2="291.16" y2="493.20" stroke="#141414" stroke-width="0.6"/>
<line x1="292.26" y1="491.70" x2="292.26" y2="493.20" stroke="#141414" stroke-width="0.6"/>
<line x1="293.25" y1="491.70" x2="293.25" y2="494.30" stroke="#141414" stroke-width="0.8"/>
<line x1="299.74" y1="491.70" x2="299.74" y2="493.20" stroke="#141414" stroke-width="0.6"/>
<line x1="303.53" y1="491.70" x2="303.53" y2="493.20" stroke="#141414" stroke-width="0.6"/>
<line x1="306.22" y1="491.70" x2="306.22" y2="493.20" stroke="#141414" stroke-width="0.6"/>
<line x1="308.31" y1="491.70" x2="308.31" y2="493.20" stroke="#141414" stroke-width="0.6"/>
<line x1="310.02" y1="491.70" x2="310.02" y2="493.20" stroke="#141414" stroke-width="0.6"/>
<line x1="311.46" y1="491.70" x2="311.46" y2="493.20" stroke="#141414" stroke-width="0.6"/>
<line x1="312.71" y1="491.70" x2="312.71" y2="493.20" stroke="#141414" stroke-width="0.6"/>
<line x1="313.81" y1="491.70" x2="313.81" y2="493.20" stroke="#141414" stroke-width="0.6"/>
<line x1="314.80" y1="491.70" x2="314.80" y2="494.30" stroke="#141414" stroke-width="0.8"/>
<text transform="translate(230.12 409.50) scale(0.906 1)" font-size="8.29" fill="#4a6394" stroke="#4a6394" stroke-width="0.15">CtrshRNA</text>
<text transform="translate(229.99 421.10) scale(0.928 1)" font-size="8.29" fill="#b53a5c" stroke="#b53a5c" stroke-width="0.15">mFABP4shRNA</text>
<text transform="translate(201.70 474.30) rotate(-90) scale(0.926 1)" font-size="9.24" fill="#1c1c1c" stroke="#1c1c1c" stroke-width="0.24">Hoxa9/Meis1</text>
<text transform="translate(214.40 469.19) rotate(-90) scale(0.988 1)" font-size="9.24" fill="#1c1c1c" stroke="#1c1c1c" stroke-width="0.24">cell count</text>
<text transform="translate(234.90 506.40) scale(0.842 1)" font-size="10.19" fill="#1c1c1c" stroke="#1c1c1c" stroke-width="0.15">DAA fluorescence</text>
<path d="M257.00,491.70 L257.50,490.95 L258.20,488.01 L258.90,486.01 L259.60,482.50 L260.40,477.05 L261.20,470.71 L262.30,458.08 L263.40,449.21 L264.70,443.85 L265.40,446.76 L266.10,448.60 L267.00,458.13 L268.10,469.49 L269.30,474.06 L270.40,479.87 L271.10,482.06 L271.80,484.68 L273.10,484.43 L274.15,484.61 L275.20,485.06 L276.20,485.52 L277.20,483.87 L278.20,486.00 L279.20,486.21 L279.90,485.77 L280.60,485.50 L281.30,485.53 L282.30,487.29 L283.30,487.45 L284.20,488.25 L285.10,488.56 L286.00,488.42 L287.40,491.27 L287.90,491.70" stroke="#9e1c46" stroke-width="1.3" fill="none" stroke-linejoin="round"/>
<path d="M279.40,491.70 L279.90,491.18 L281.00,481.72 L282.00,458.48 L282.90,441.32 L284.00,429.90 L285.10,425.50 L286.00,430.44 L287.40,444.85 L288.25,453.98 L289.10,462.87 L289.95,469.27 L290.80,476.23 L291.80,481.87 L292.80,487.17 L294.20,491.34 L294.70,491.70" stroke="#2c4682" stroke-width="1.3" fill="none" stroke-linejoin="round"/>
<text transform="translate(323.18 388.00) scale(1.264 1)" font-size="12.09" fill="#0a0a0a" font-weight="bold">I</text>
<line x1="364.40" y1="393.30" x2="364.40" y2="494.30" stroke="#141414" stroke-width="1.3"/>
<line x1="361.00" y1="491.30" x2="364.40" y2="491.30" stroke="#141414" stroke-width="1.3"/>
<text transform="translate(353.84 494.46) scale(0.938 1)" font-size="8.18" fill="#1c1c1c" stroke="#1c1c1c" stroke-width="0.15">0</text>
<line x1="361.00" y1="446.90" x2="364.40" y2="446.90" stroke="#141414" stroke-width="1.3"/>
<text transform="translate(349.57 450.06) scale(0.938 1)" font-size="8.18" fill="#1c1c1c" stroke="#1c1c1c" stroke-width="0.15">50</text>
<line x1="361.00" y1="402.50" x2="364.40" y2="402.50" stroke="#141414" stroke-width="1.3"/>
<text transform="translate(345.31 405.66) scale(0.938 1)" font-size="8.18" fill="#1c1c1c" stroke="#1c1c1c" stroke-width="0.15">100</text>
<line x1="363.80" y1="491.30" x2="490.70" y2="491.30" stroke="#141414" stroke-width="1.3"/>
<line x1="364.40" y1="491.30" x2="364.40" y2="494.50" stroke="#141414" stroke-width="1.3"/>
<text transform="translate(362.37 504.60) scale(0.938 1)" font-size="8.18" fill="#1c1c1c" stroke="#1c1c1c" stroke-width="0.15">0</text>
<line x1="394.80" y1="491.30" x2="394.80" y2="494.50" stroke="#141414" stroke-width="1.3"/>
<text transform="translate(390.59 504.60) scale(0.938 1)" font-size="8.18" fill="#1c1c1c" stroke="#1c1c1c" stroke-width="0.15">20</text>
<line x1="425.40" y1="491.30" x2="425.40" y2="494.50" stroke="#141414" stroke-width="1.3"/>
<text transform="translate(421.30 504.60) scale(0.938 1)" font-size="8.18" fill="#1c1c1c" stroke="#1c1c1c" stroke-width="0.15">40</text>
<line x1="456.20" y1="491.30" x2="456.20" y2="494.50" stroke="#141414" stroke-width="1.3"/>
<text transform="translate(451.99 504.60) scale(0.938 1)" font-size="8.18" fill="#1c1c1c" stroke="#1c1c1c" stroke-width="0.15">60</text>
<line x1="487.90" y1="491.30" x2="487.90" y2="494.50" stroke="#141414" stroke-width="1.3"/>
<text transform="translate(483.72 504.60) scale(0.938 1)" font-size="8.18" fill="#1c1c1c" stroke="#1c1c1c" stroke-width="0.15">80</text>
<text transform="translate(415.32 517.30) scale(0.813 1)" font-size="10.19" fill="#1c1c1c" stroke="#1c1c1c" stroke-width="0.15">Days</text>
<text transform="translate(339.40 479.43) rotate(-90) scale(0.915 1)" font-size="9.68" fill="#1c1c1c" stroke="#1c1c1c" stroke-width="0.24">Percent survival</text>
<text transform="translate(400.27 392.70) scale(0.909 1)" font-size="8.51" fill="#1c1c1c" stroke="#1c1c1c" stroke-width="0.15">P&lt;1e-3</text>
<path d="M398.3,400.7 L398.3,395.5 L430.4,395.5 L430.4,400.7" stroke="#1a1a1a" stroke-width="1.2" fill="none"/>
<text transform="translate(366.98 488.80) scale(1.090 1)" font-size="7.17" fill="#1c1c1c" stroke="#1c1c1c" stroke-width="0.15">n=8</text>
<path d="M364.40,402.50 L430.80,402.50 L430.80,411.20 L432.00,411.20 L432.00,419.20 L436.90,419.20 L436.90,428.50 L439.70,428.50 L439.70,438.00 L444.00,438.00 L444.00,446.90 L447.20,446.90 L447.20,455.80 L450.40,455.80 L450.40,464.80 L451.70,464.80 L451.70,473.70 L453.50,473.70 L453.50,491.30" stroke="#a8123e" stroke-width="1.5" fill="none" stroke-linejoin="miter"/>
<path d="M364.40,402.50 L398.30,402.50 L398.30,410.60 L400.40,410.60 L400.40,418.30 L406.60,418.30 L406.60,426.60 L408.20,426.60 L408.20,434.90 L409.70,434.90 L409.70,442.10 L411.70,442.10 L411.70,458.70 L415.30,458.70 L415.30,475.20 L419.00,475.20 L419.00,491.30" stroke="#2f4f86" stroke-width="1.5" fill="none" stroke-linejoin="miter"/>
<line x1="455.10" y1="400.90" x2="468.40" y2="400.90" stroke="#2f4f86" stroke-width="1.5"/>
<text transform="translate(471.91 403.60) scale(0.818 1)" font-size="9.41" fill="#4a5a84" stroke="#4a5a84" stroke-width="0.15">Control-KD</text>
<line x1="455.10" y1="416.40" x2="468.40" y2="416.40" stroke="#a8123e" stroke-width="1.5"/>
<text transform="translate(471.66 419.20) scale(0.833 1)" font-size="9.41" fill="#8e2444" stroke="#8e2444" stroke-width="0.15">FABP4-KD</text>
<path d="M0.6,0 L0.6,559.2 M0,0.6 L519.2,0.6" stroke="#000" stroke-width="1.3" fill="none"/>
<path d="M519.1,0 L519.1,560 M0,559.1 L520,559.1" stroke="#000" stroke-width="1.8" fill="none"/>
</svg>
</body></html>
